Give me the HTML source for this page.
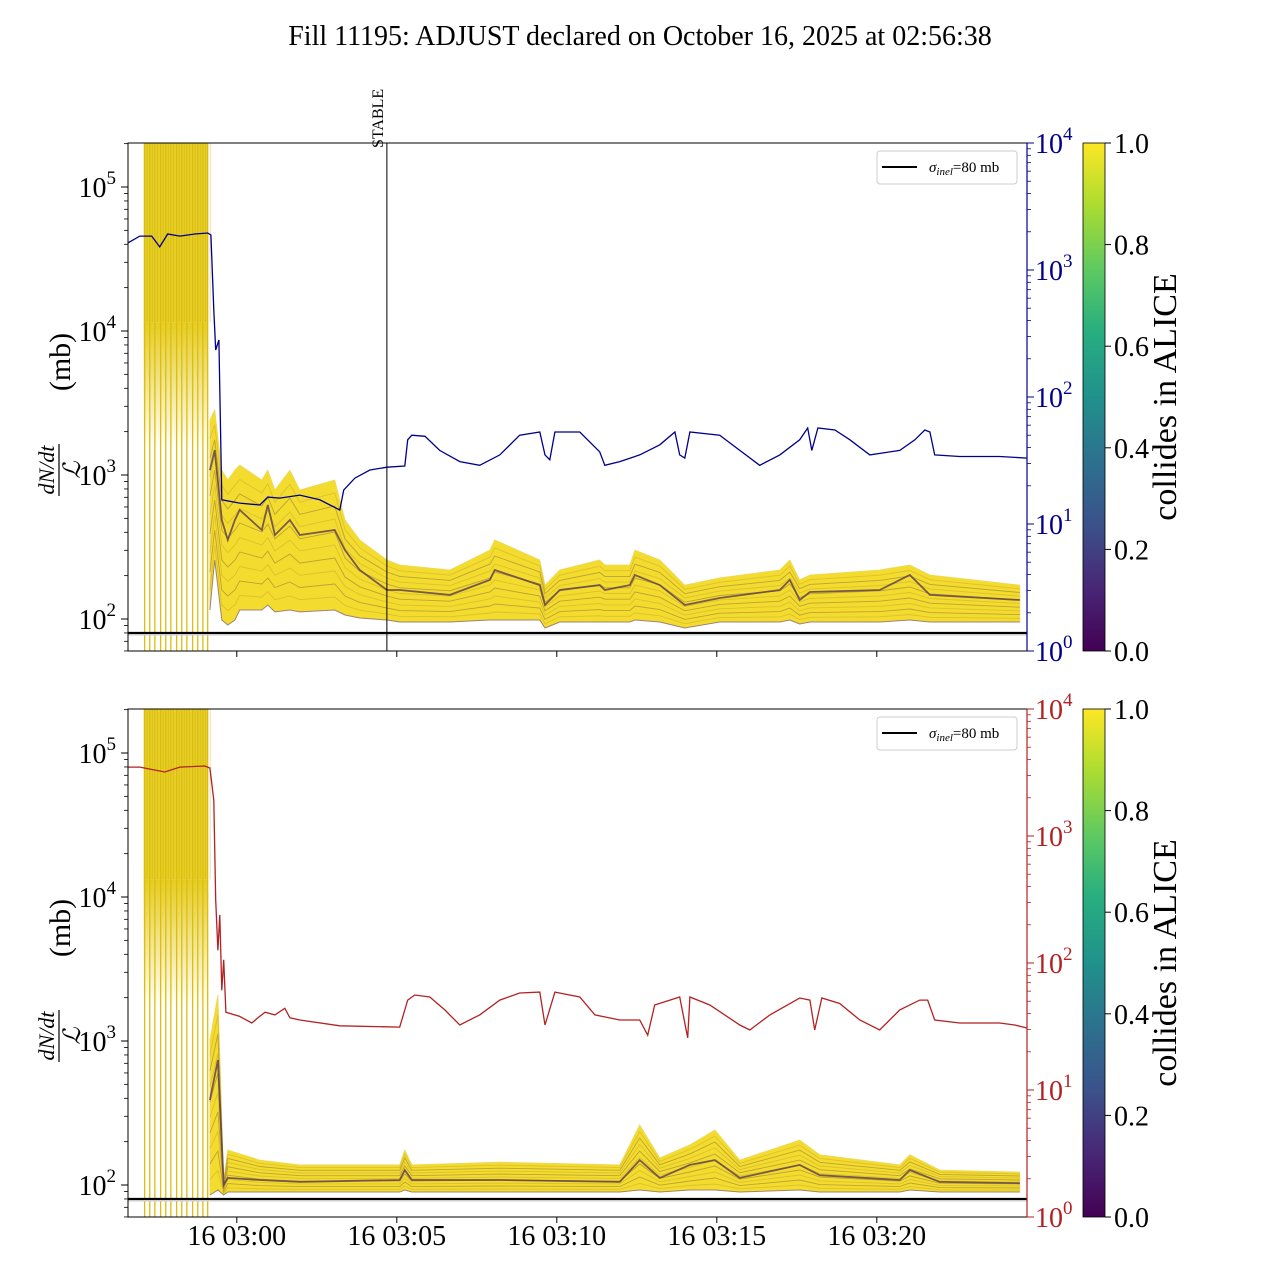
<!DOCTYPE html>
<html><head><meta charset="utf-8"><style>
html,body{margin:0;padding:0;background:#fff;}
svg text{font-family:"Liberation Serif",serif;}
</style></head><body>
<svg id="chart" xmlns="http://www.w3.org/2000/svg" width="1280" height="1280" viewBox="0 0 1280 1280">
<defs>
<clipPath id="clipTop"><rect x="128" y="143" width="899" height="508"/></clipPath>
<clipPath id="clipBot"><rect x="128" y="709" width="899" height="508"/></clipPath>
<linearGradient id="viridis" x1="0" y1="1" x2="0" y2="0">
<stop offset="0" stop-color="#440154"/><stop offset="0.13" stop-color="#482878"/><stop offset="0.25" stop-color="#3b528b"/><stop offset="0.38" stop-color="#2c728e"/><stop offset="0.5" stop-color="#21918c"/><stop offset="0.63" stop-color="#28ae80"/><stop offset="0.75" stop-color="#5ec962"/><stop offset="0.88" stop-color="#addc30"/><stop offset="1" stop-color="#fde725"/>
</linearGradient>
<linearGradient id="fadeTop" x1="0" y1="0" x2="0" y2="1"><stop offset="0" stop-color="#e6cc20" stop-opacity="1"/><stop offset="1" stop-color="#e6cc20" stop-opacity="0"/></linearGradient>
</defs>
<text x="640" y="45" font-size="28" text-anchor="middle">Fill 11195: ADJUST declared on October 16, 2025 at 02:56:38</text>
<g id="layer"></g>
</svg>
<script>
// ---------- data ----------
const xTickLabels = ["16 03:00","16 03:05","16 03:10","16 03:15","16 03:20"];
const xTickMinutes = [0,5,10,15,20];
const stableMinute = 4.69;
const sigmaInel = 80;
const blockStart = -2.91, blockEnd = -0.9;
const spikeMinutes = [-2.88,-2.72,-2.56,-2.38,-2.22,-2.06,-1.88,-1.72,-1.56,-1.38,-1.22,-1.06,-0.91];
const blockSolidTop = 11500, blockFadeTop = 1500;
const blockSolidBot = 13200, blockFadeBot = 1700;

const topBandT = [-0.84,-0.69,-0.47,-0.28,-0.06,0.09,0.78,0.97,1.19,1.66,1.97,3.06,3.38,3.84,4.69,5.09,6.66,7.91,8.06,9.47,9.63,10.09,11.34,11.5,12.28,12.44,13.22,14.0,15.09,16.97,17.28,17.59,17.91,20.09,21.03,21.66,24.47];
const topBandLo = [115.5,257,98.4,90.9,98.4,115.5,115.5,125,112,115.5,112,115.5,106.6,101.6,98.4,95.3,95.3,98.4,98.4,98.4,86.6,95.3,95.3,95.3,95.3,98.4,95.3,86.6,95.3,95.3,98.4,92.3,95.3,95.3,98.4,95.3,95.3];
const topBandMed = [1080,1490,487,354,487,571,415,619,383,487,383,415,301,219,159,159,147,187,219,172,125,159,172,159,172,202,172,125,140,159,187,135.5,154,159,202,147,135.5];
const topBandHi = [2410,2830,1080,923,1080,1173,923,1080,787,1080,787,923,487,354,257,237,219,301,354,257,172,219,257,237,237,301,257,172,193,219,257,187,202,219,237,202,172];

const botBandT = [-0.84,-0.59,-0.41,-0.28,0.72,1.97,5.09,5.25,5.47,8.22,11.97,12.59,13.22,14.16,14.94,15.72,17.59,18.22,20.72,21.03,21.97,24.47];
const botBandLo = [85.2,92.3,85.2,89.4,89.4,89.4,89.4,92.3,89.4,89.4,89.4,92.3,89.4,92.3,92.3,89.4,92.3,89.4,89.4,92.3,89.4,89.4];
const botBandMed = [389,738,100,112,108.3,105,108.3,127,108.3,108.3,105,149,112,138,149,112,138,117,108.3,127,105,103];
const botBandHi = [1016,2086,108.3,175,149,138,138,175,138,144,138,261,154,190,241,149,205,162,138,162,127,123];

const lumiTopT = [-3.41,-3.03,-2.66,-2.41,-2.16,-1.78,-1.31,-0.91,-0.81,-0.72,-0.66,-0.56,-0.47,0.09,0.72,0.97,1.34,1.97,2.59,3.22,3.34,3.69,4.16,4.69,5.25,5.34,5.47,5.88,6.34,6.97,7.59,8.22,8.84,9.47,9.63,9.78,9.94,10.72,11.34,11.5,11.97,12.59,13.22,13.69,13.84,14.0,14.16,15.09,15.72,16.34,16.97,17.59,17.84,17.97,18.16,18.69,19.16,19.78,20.72,21.19,21.5,21.66,21.81,22.59,23.84,24.69];
const lumiTopV = [1630,1850,1850,1520,1920,1850,1920,1955,1885,484,234,281,15.5,14.6,14.1,16.3,16,16.9,15.5,12.9,18.5,23,26.6,28,28.6,46,50,49,38,31,29,35,50,53,35,32,53,53,37,29,31,35,42,53,35,33,53,50,38,29,35,46,57,38,57,55,46,35,38,46,55,53,35,34,34,33];

const lumiBotT = [-3.41,-3.03,-2.25,-1.78,-1.0,-0.84,-0.72,-0.66,-0.59,-0.53,-0.47,-0.41,-0.34,0.09,0.47,0.66,0.88,1.19,1.5,1.66,1.97,3.22,5.09,5.34,5.56,6.03,6.5,6.97,7.59,8.22,8.84,9.47,9.63,9.94,10.72,11.19,11.97,12.59,12.84,13.06,13.84,14.09,14.16,14.78,15.72,16.03,16.66,17.59,17.91,18.06,18.28,18.84,19.47,20.09,20.72,21.34,21.59,21.81,22.59,23.84,24.31,24.69];
const lumiBotV = [3490,3490,3190,3490,3560,3430,1920,313,126,239,61,106,41,38,33.7,37,41,39,44,37,35.6,32,31.3,51,56,54,42.7,32.5,39,51,58,59,32.5,59,54,39,35.6,35.6,27,46.7,54,25.7,54,46.7,32.5,29.7,39,53,51,29.7,53,48,35.6,29.7,42.7,51,51,35.6,33.7,33.7,32.5,30.8];

const cbTicks = [0.0,0.2,0.4,0.6,0.8,1.0];

// ---------- helpers ----------
const NS = "http://www.w3.org/2000/svg";
const layer = document.getElementById('layer');
function mk(tag, attrs, parent){ const e=document.createElementNS(NS,tag); for(const k in attrs) e.setAttribute(k,attrs[k]); (parent||layer).appendChild(e); return e; }
const X0=128, X1=1027, PW=899, PH=508;
const tMin=-3.4, pxPerMin=32;
function xs(t){ return X0 + (t - tMin)*pxPerMin; }
function yL(v, off){ return 187 + off + (5 - Math.log10(v))*144; }
function yR(v, off){ return 143 + off + (4 - Math.log10(v))*127; }
function clampY(y, off){ return Math.max(140+off, Math.min(655+off, y)); }
function pathFrom(T, V, fy, off){ const n=Math.min(T.length,V.length); let d=''; for(let i=0;i<n;i++){ d += (i?'L':'M') + xs(T[i]).toFixed(1) + ',' + fy(V[i],off).toFixed(1); } return d; }

function panel(off, lumiT, lumiV, lumiColor, bandT, bandLo, bandMed, bandHi, name){
  const top=143+off, bot=top+PH;
  const g = mk('g',{'clip-path': off? 'url(#clipBot)':'url(#clipTop)'});
  
  
  const bx0=xs(blockStart), bx1=xs(blockEnd);
  const solidV = off? blockSolidBot: blockSolidTop, fadeV = off? blockFadeBot: blockFadeTop;
  const ys = yL(solidV, off), yf = yL(fadeV, off);
  const blk = mk('rect',{x:bx0,y:top,width:bx1-bx0,height:ys-top,fill:'#e8cf22'},g);
  
  
  mk('rect',{x:bx0,y:ys,width:bx1-bx0,height:yf-ys,fill:'url(#fadeTop)'},g);
  for(let i=0;i<spikeMinutes.length;i++){
    const sx = xs(spikeMinutes[i]);
    const ln = mk('line',{x1:sx,x2:sx,y1:top,y2:bot,stroke:'#dcbe10','stroke-width':1.3},g);
    
    
    mk('line',{x1:sx+2.5,x2:sx+2.5,y1:top,y2:ys,stroke:'#b89a30','stroke-width':0.8,'stroke-opacity':0.4},g);
  }
  const n = Math.min(bandT.length, bandLo.length, bandHi.length, bandMed.length);
  let d='';
  for(let i=0;i<n;i++) d += (i?'L':'M')+xs(bandT[i]).toFixed(1)+','+clampY(yL(bandHi[i],off),off).toFixed(1);
  for(let i=n-1;i>=0;i--) d += 'L'+xs(bandT[i]).toFixed(1)+','+clampY(yL(bandLo[i],off),off).toFixed(1);
  d+='Z';
  const band = mk('path',{d:d,fill:'#f2d816','fill-opacity':0.9,stroke:'#ecd860','stroke-width':0.8},g);
  
  
  const fracs=[0.1,0.2,0.3,0.4,0.5,0.6,0.7,0.8,0.9];
  fracs.forEach((f,k)=>{
    let dd='';
    for(let i=0;i<n;i++){
      const lv = Math.log10(bandLo[i]) + f*(Math.log10(bandHi[i])-Math.log10(bandLo[i]));
      dd += (i?'L':'M')+xs(bandT[i]).toFixed(1)+','+clampY(yL(Math.pow(10,lv),off),off).toFixed(1);
    }
    mk('path',{d:dd,fill:'none',stroke:k%2?'#8a6a40':'#c8a830','stroke-width':0.9,'stroke-opacity':0.5},g);
  });
  const med = mk('path',{d:pathFrom(bandT,bandMed,yL,off),fill:'none',stroke:'#5a3a50','stroke-width':1.8,'stroke-opacity':0.8},g);
  
  
  const lo = mk('path',{d:pathFrom(bandT,bandLo,yL,off),fill:'none',stroke:'#6a4a80','stroke-width':1,'stroke-opacity':0.6},g);
  
  
  const sy = yL(sigmaInel, off);
  mk('line',{x1:X0,x2:X1,y1:sy+1.5,y2:sy+1.5,stroke:'#ccc','stroke-width':2},g);
  const sl = mk('line',{x1:X0,x2:X1,y1:sy,y2:sy,stroke:'#000','stroke-width':2.2},g);
  
  
  const lp = mk('path',{d:pathFrom(lumiT,lumiV,yR,off),fill:'none',stroke:lumiColor,'stroke-width':1.3},g);
  
  
  const fr = mk('rect',{x:X0,y:top,width:PW,height:PH,fill:'none',stroke:'#000','stroke-width':1});
  
  
  for(let e=1;e<=5;e++){
    for(let m=1;m<10;m++){
      const v=m*Math.pow(10,e); const y=yL(v,off);
      if(y<top-0.5||y>bot+0.5) continue;
      mk('line',{x1:X0,x2:X0-(m===1?7:4),y1:y,y2:y,stroke:'#000','stroke-width':m===1?1:0.8});
      if(m===1 && e>=2){
        const t = mk('text',{x:X0-12,y:y+10,'font-size':28,'text-anchor':'end'});
        
        
        t.innerHTML = '10<tspan font-size="19" dy="-13">'+e+'</tspan>';
      }
    }
  }
  for(let e=0;e<=4;e++){
    for(let m=1;m<10;m++){
      const v=m*Math.pow(10,e); const y=yR(v,off);
      if(y<top-0.5||y>bot+0.5) continue;
      mk('line',{x1:X1,x2:X1+(m===1?7:4),y1:y,y2:y,stroke:lumiColor,'stroke-width':m===1?1:0.8});
      if(m===1){
        const t = mk('text',{x:X1+8,y:y+10,'font-size':28,fill:lumiColor});
        
        
        t.innerHTML = '10<tspan font-size="19" dy="-13">'+e+'</tspan>';
      }
    }
  }
  mk('line',{x1:X1,x2:X1,y1:top,y2:bot,stroke:lumiColor,'stroke-width':1.2});
  xTickMinutes.forEach((m,i)=>{
    const x=xs(m);
    mk('line',{x1:x,x2:x,y1:bot,y2:bot+6,stroke:'#000'});
    if(off){
      const t=mk('text',{x:x,y:bot+28,'font-size':28,'text-anchor':'middle'});
      
      
      t.textContent = xTickLabels[i];
    }
  });
  const lg = mk('g',{});
  
  
  mk('rect',{x:877,y:top+8,width:140,height:33,rx:3,fill:'#fff',stroke:'#ccc'},lg);
  mk('line',{x1:882,x2:917,y1:top+24,y2:top+24,stroke:'#000','stroke-width':2},lg);
  const lt = mk('text',{x:929,y:top+29,'font-size':15},lg);
  lt.innerHTML = '<tspan font-style="italic">σ</tspan><tspan font-size="11" dy="3" font-style="italic">inel</tspan><tspan dy="-3">=80 mb</tspan>';
  const yl = mk('g',{transform:'rotate(-90)'});
  
  
  const cy = 470+off;
  const nu = mk('text',{x:-cy,y:54,'font-size':22,'text-anchor':'middle','font-style':'italic'},yl); nu.textContent='dN/dt';
  mk('line',{x1:-cy-26,x2:-cy+26,y1:59,y2:59,stroke:'#000','stroke-width':1.2},yl);
  const de = mk('text',{x:-cy,y:80,'font-size':24,'text-anchor':'middle','font-style':'italic'},yl); de.textContent='ℒ';
  const mb = mk('text',{x:-(362+off),y:70,'font-size':30,'text-anchor':'middle'},yl); mb.textContent='(mb)';
  const cb = mk('rect',{x:1083,y:top,width:22,height:PH,fill:'url(#viridis)',stroke:'#000','stroke-width':0.8});
  
  
  cbTicks.forEach(v=>{
    const y = bot - v*PH;
    mk('line',{x1:1105,x2:1111,y1:y,y2:y,stroke:'#000'});
    const t=mk('text',{x:1114,y:y+10,'font-size':28});
    
    
    t.textContent = v.toFixed(1);
  });
  const ct = mk('text',{transform:'translate(1176,'+(top+PH/2)+') rotate(-90)','font-size':34,'text-anchor':'middle'});
  
  
  ct.textContent='collides in ALICE';
}

panel(0, lumiTopT, lumiTopV, '#00008b', topBandT, topBandLo, topBandMed, topBandHi, 'top');
panel(566, lumiBotT, lumiBotV, '#b22222', botBandT, botBandLo, botBandMed, botBandHi, 'bottom');

const sx = xs(stableMinute);
const stl = mk('line',{x1:sx,x2:sx,y1:143,y2:651,stroke:'#000','stroke-width':1});


const stt = mk('text',{transform:'translate('+(sx-4)+',148) rotate(-90)','font-size':16});


stt.textContent='STABLE';
</script>
</body></html>
